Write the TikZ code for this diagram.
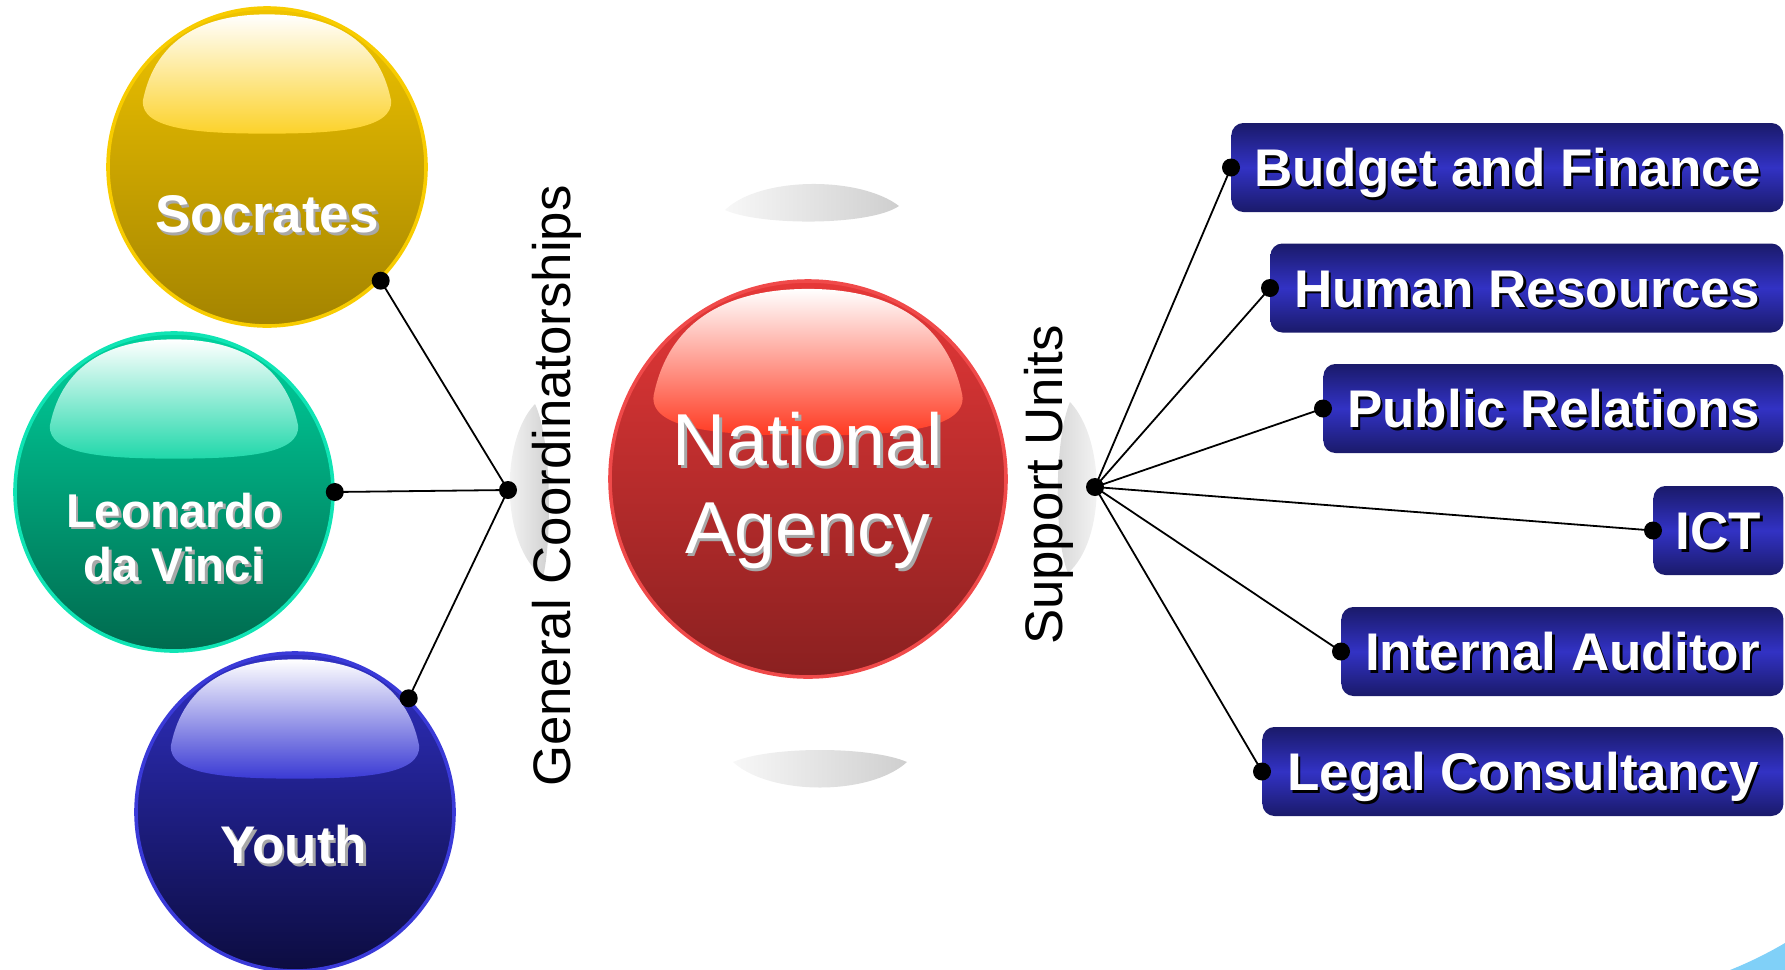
\documentclass[tikz,border=0pt]{standalone}
\usepackage{fontspec}
\setmainfont{Liberation Sans}
\definecolor{yelB}{HTML}{F8CC00}
\definecolor{yelT}{HTML}{F0C400}
\definecolor{yelD}{HTML}{A48400}
\definecolor{yelH}{HTML}{FCD22A}
\definecolor{tealB}{HTML}{10E4B4}
\definecolor{tealT}{HTML}{00D29E}
\definecolor{tealD}{HTML}{006A4E}
\definecolor{tealH}{HTML}{20D8AA}
\definecolor{bluB}{HTML}{3A3AD8}
\definecolor{bluT}{HTML}{3030C4}
\definecolor{bluD}{HTML}{0C0C40}
\definecolor{bluH}{HTML}{3A3AD4}
\definecolor{redB}{HTML}{F04A4A}
\definecolor{redT}{HTML}{E63838}
\definecolor{redD}{HTML}{8A2020}
\definecolor{redH}{HTML}{FF3A22}
\definecolor{boxDark}{HTML}{1A1A6A}
\definecolor{boxMid}{HTML}{3232C4}
\definecolor{cornerblue}{HTML}{80D0F8}
\definecolor{shgray}{HTML}{A8A8A8}
\newcommand\shtext[2]{\leavevmode\rlap{\kern1.3pt\raisebox{-1.3pt}{\color{#1}#2}}#2}
\newcommand\hilite[4]{\begin{scope}[shift={(#1.center)},scale=#2]
\shade[top color=white, bottom color=#3] (-0.78,-0.42) .. controls (-0.7,-0.82) and (-0.38,-0.96) .. (0,-0.96) .. controls (0.38,-0.96) and (0.7,-0.82) .. (0.78,-0.42) .. controls (0.8,{#4-0.02}) and (0.4,#4) .. (0,#4) .. controls (-0.4,#4) and (-0.8,{#4-0.02}) .. (-0.78,-0.42) -- cycle;
\end{scope}}
\begin{document}
\begin{tikzpicture}[x=0.5pt,y=-0.5pt,
  sphere/.style={circle, draw=#1B, line width=1.8pt, top color=#1T, bottom color=#1D, minimum size=159pt, inner sep=0pt},
  clbl/.style={text=white, font=\bfseries\fontsize{26.5}{30}\selectfont, inner sep=0pt},
  ubox/.style={rounded corners=6pt, top color=boxDark, bottom color=boxDark, middle color=boxMid, minimum height=44.5pt, text height=19pt, text depth=0pt, text=white, font=\bfseries\fontsize{26.5}{30}\selectfont, anchor=west, inner sep=0pt},
  vlbl/.style={rotate=90, font=\fontsize{26.4}{30}\selectfont, inner sep=0pt},
  conn/.style={line width=0.9pt, black},
  dotn/.style={circle, fill=black, inner sep=0pt, minimum size=9pt}]
\useasboundingbox (0,0) rectangle (1785,970);
\fill[cornerblue] (1730,970) .. controls (1750,962) and (1768,953) .. (1785,943) -- (1785,970) -- cycle;
% grey discs
\shade[left color=gray!6, right color=gray!38] (725,210) .. controls (760,176) and (860,176) .. (899,206) .. controls (870,226) and (760,226) .. (725,210) -- cycle;
\shade[left color=gray!6, right color=gray!38] (733,762) .. controls (770,746) and (870,746) .. (907,762) .. controls (870,796) and (770,796) .. (733,762) -- cycle;
\shade[left color=gray!4, right color=gray!38] (535,404) .. controls (500,440) and (500,545) .. (543,577) .. controls (552,540) and (552,440) .. (535,404) -- cycle;
\shade[left color=gray!32, right color=gray!5] (1070,402) .. controls (1106,440) and (1106,540) .. (1068,573) .. controls (1054,540) and (1054,440) .. (1070,402) -- cycle;
% spheres
\node[sphere=yel] (soc) at (267,167) {};
\node[sphere=teal] (leo) at (174,492) {};
\node[sphere=blu] (you) at (295,812) {};
\node[sphere=red, minimum size=198pt] (nat) at (808,479) {};
\hilite{soc}{159}{yelH}{-0.21}
\hilite{leo}{159}{tealH}{-0.21}
\hilite{you}{159}{bluH}{-0.21}
\hilite{nat}{198}{redH}{-0.22}
% sphere labels
\node[clbl] (soct) at (267,216) {\shtext{shgray}{Socrates}};
\node[clbl, font=\bfseries\fontsize{23.7}{27.3}\selectfont, align=center] (leot) at (174,539) {\shtext{shgray}{Leonardo}\\\shtext{shgray}{da Vinci}};
\node[clbl] (yout) at (294,846) {\shtext{shgray}{Youth}};
\node[text=white, font=\fontsize{36.8}{44}\selectfont, align=center, inner sep=0pt] (natt) at (808,492) {\shtext{shgray}{National}\\\shtext{shgray}{Agency}};
\node[vlbl] (gc) at (557,486) {General Coordinatorships};
\node[vlbl] (su) at (1049,485) {Support Units};
% boxes
\node[ubox, minimum width=276pt] (bf) at (1231,167.5) {\shtext{black}{Budget and Finance}};
\node[ubox, minimum width=256.5pt] (hr) at (1270,288) {\shtext{black}{Human Resources}};
\node[ubox, minimum width=230pt] (pr) at (1323,408.5) {\shtext{black}{Public Relations}};
\node[ubox, minimum width=65pt] (ict) at (1653,530.5) {\shtext{black}{ICT}};
\node[ubox, minimum width=221pt] (ia) at (1341,651.5) {\shtext{black}{Internal Auditor}};
\node[ubox, minimum width=260.5pt] (lc) at (1262,771.5) {\shtext{black}{Legal Consultancy}};
% connectors
\coordinate (hubL) at (508,490);
\coordinate (hubR) at (1095,487);
\draw[conn] (hubL) -- (soc.-45);
\draw[conn] (hubL) -- (leo.east);
\draw[conn] (hubL) -- (you.45);
\foreach \b in {bf,hr,pr,ict,ia,lc} \draw[conn] (hubR) -- (\b.west);
% dots
\node[dotn] (dL) at (hubL) {};
\node[dotn] (dR) at (hubR) {};
\node[dotn] (dsoc) at (soc.-45) {};
\node[dotn] (dleo) at (leo.east) {};
\node[dotn] (dyou) at (you.45) {};
\node[dotn] (dbf) at (bf.west) {};
\node[dotn] (dhr) at (hr.west) {};
\node[dotn] (dpr) at (pr.west) {};
\node[dotn] (dict) at (ict.west) {};
\node[dotn] (dia) at (ia.west) {};
\node[dotn] (dlc) at (lc.west) {};
\end{tikzpicture}
\end{document}
